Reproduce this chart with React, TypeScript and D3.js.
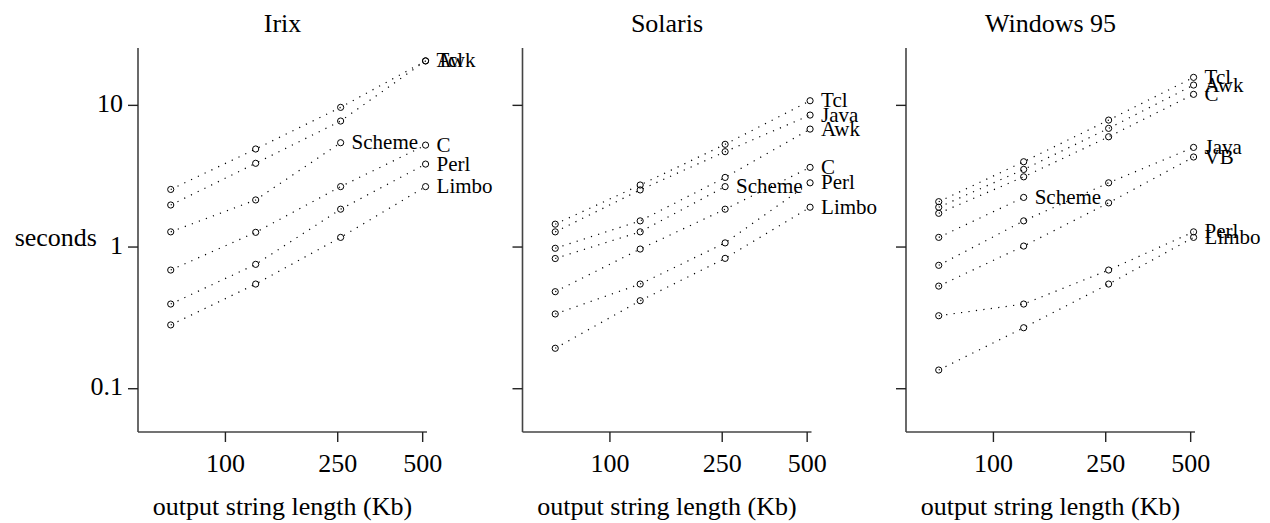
import React from "react";
import * as d3 from "d3";

// ---- data ----
const sizesKb = [64, 128, 256, 512];
const systems = ["Irix", "Solaris", "Windows 95"];

const irixNames = ["Tcl", "Awk", "Scheme", "C", "Perl", "Limbo"];
const irixTimes = [
  [2.55, 4.92, 9.68, 20.6],
  [1.98, 3.9, 7.75, 20.6],
  [1.28, 2.15, 5.45],
  [0.688, 1.27, 2.67, 5.24],
  [0.396, 0.755, 1.85, 3.85],
  [0.282, 0.548, 1.17, 2.67],
];

const solarisNames = ["Tcl", "Java", "Awk", "Scheme", "C", "Perl", "Limbo"];
const solarisTimes = [
  [1.45, 2.74, 5.31, 10.78],
  [1.28, 2.53, 4.71, 8.54],
  [0.98, 1.53, 3.1, 6.8],
  [0.83, 1.28, 2.67],
  [0.484, 0.968, 1.85, 3.65],
  [0.337, 0.548, 1.07, 2.84],
  [0.193, 0.418, 0.832, 1.91],
];

const winNames = ["Tcl", "Awk", "C", "Scheme", "Java", "VB", "Perl", "Limbo"];
const winTimes = [
  [2.09, 4.0, 7.87, 15.76],
  [1.91, 3.53, 6.88, 13.91],
  [1.73, 3.13, 6.0, 11.96],
  [1.17, 2.24],
  [0.743, 1.53, 2.84, 5.05],
  [0.53, 1.016, 2.05, 4.32],
  [0.3275, 0.396, 0.688, 1.28],
  [0.1355, 0.2695, 0.548, 1.17],
];

const xTicks = [100, 250, 500];
const xTickLabels = ["100", "250", "500"];
const yTicks = [0.1, 1, 10];
const yTickLabels = ["0.1", "1", "10"];

const panelNames = [irixNames, solarisNames, winNames];
const panelTimes = [irixTimes, solarisTimes, winTimes];

// ---- layout ----
const W = 1270;
const H = 523;
const panelLeft = [138, 522.5, 906];
const panelWidth = 289;
const top = 48;
const bottom = 432;
const font = "'Liberation Serif', 'Times New Roman', Times, serif";

export default function App() {
  const y = d3.scaleLog().domain([0.0495, 25.4]).range([bottom, top]);
  const xBase = d3.scaleLog().domain([49, 518]).range([0, panelWidth]);
  const line = d3
    .line<[number, number]>()
    .x((d) => d[0])
    .y((d) => d[1]);

  return (
    <svg
      width={W}
      height={H}
      style={{ position: "absolute", left: 0, top: 0, background: "#fff" }}
      fontFamily={font}
    >
      <text x={97} y={246} fontSize={26} textAnchor="end" fill="#000">
        seconds
      </text>
      {systems.map((sys, p) => {
        const x0 = panelLeft[p];
        const x = (v: number) => x0 + xBase(v);
        const names = panelNames[p];
        const times = panelTimes[p];
        return (
          <g key={sys}>
            <text
              x={x0 + panelWidth / 2}
              y={32}
              fontSize={26}
              textAnchor="middle"
              fill="#000"
            >
              {sys}
            </text>
            {/* axes */}
            <line x1={x0} x2={x0} y1={top} y2={bottom} stroke="#444" strokeWidth={1.6} />
            <line x1={x0} x2={x0 + panelWidth} y1={bottom} y2={bottom} stroke="#444" strokeWidth={1.6} />
            {yTicks.map((t, i) => (
              <g key={"y" + t}>
                <line x1={x0 - 10} x2={x0} y1={y(t)} y2={y(t)} stroke="#222" strokeWidth={1.4} />
                {p === 0 && (
                  <text x={x0 - 15} y={y(t) + 6.5} fontSize={26} textAnchor="end" fill="#000">
                    {yTickLabels[i]}
                  </text>
                )}
              </g>
            ))}
            {xTicks.map((t, i) => (
              <g key={"x" + t}>
                <line x1={x(t)} x2={x(t)} y1={bottom} y2={bottom + 10} stroke="#222" strokeWidth={1.4} />
                <text x={x(t)} y={472} fontSize={26} textAnchor="middle" fill="#000">
                  {xTickLabels[i]}
                </text>
              </g>
            ))}
            <text
              x={x0 + panelWidth / 2}
              y={515}
              fontSize={26}
              textAnchor="middle"
              fill="#000"
            >
              output string length (Kb)
            </text>
            {/* series */}
            {times.map((vals, s) => {
              const pts: [number, number][] = vals.map((v, i) => [x(sizesKb[i]), y(v)]);
              const last = pts[pts.length - 1];
              return (
                <g key={names[s]}>
                  <path
                    d={line(pts) || ""}
                    fill="none"
                    stroke="#000"
                    strokeWidth={1.2}
                    strokeDasharray="1.2 6.3"
                  />
                  {pts.map((pt, i) => (
                    <circle key={i} cx={pt[0]} cy={pt[1]} r={3.1} fill="none" stroke="#000" strokeWidth={1} />
                  ))}
                  <text x={last[0] + 11} y={last[1] + 6.5} fontSize={21} fill="#000">
                    {names[s]}
                  </text>
                </g>
              );
            })}
          </g>
        );
      })}
    </svg>
  );
}
